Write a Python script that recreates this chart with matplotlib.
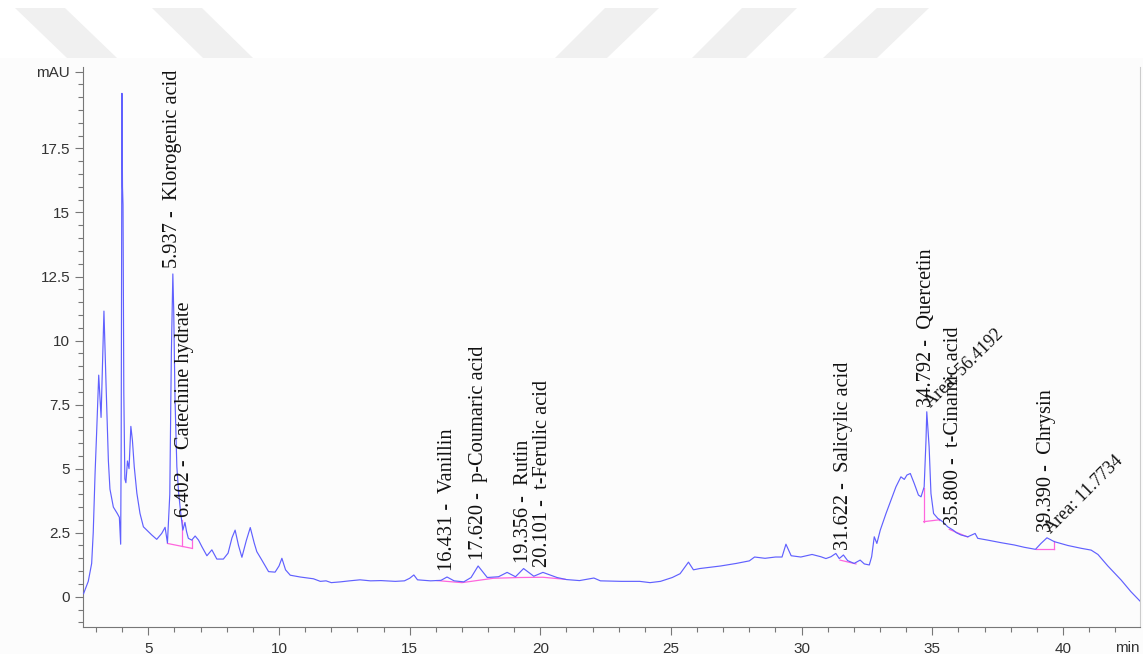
import numpy as np
import matplotlib
matplotlib.use("Agg")
import matplotlib.pyplot as plt
from matplotlib.patches import Polygon, Rectangle

# chromatogram trace (min, mAU)
time_min = [2.52, 2.70, 2.83, 2.89, 2.96, 3.02, 3.10, 3.19, 3.30, 3.38, 3.47, 3.53, 3.66, 3.81, 3.89,
            3.94, 3.96, 3.99, 4.01, 4.03, 4.06, 4.10, 4.14, 4.20, 4.26, 4.33, 4.39, 4.46, 4.56, 4.68,
            4.81, 4.94, 5.13, 5.32, 5.51, 5.64, 5.73, 5.82, 5.88, 5.937, 5.97, 6.02, 6.09, 6.16, 6.24,
            6.32, 6.40, 6.46, 6.53, 6.66, 6.79, 6.92, 7.05, 7.24, 7.43, 7.62, 7.87, 8.05, 8.20, 8.32,
            8.45, 8.58, 8.75, 8.90, 9.05, 9.15, 9.32, 9.60, 9.85, 10.00, 10.11, 10.25, 10.43, 10.81,
            11.32, 11.58, 11.80, 12.00, 12.35, 12.70, 13.10, 13.50, 13.90, 14.45, 14.80, 15.00, 15.16,
            15.30, 15.80, 16.20, 16.43, 16.70, 17.07, 17.35, 17.62, 17.97, 18.40, 18.73, 19.05, 19.36,
            19.75, 20.10, 20.64, 21.00, 21.50, 22.05, 22.30, 23.10, 23.80, 24.20, 24.60, 25.05, 25.35,
            25.67, 25.86, 26.10, 26.50, 26.90, 27.50, 28.00, 28.20, 28.60, 29.00, 29.25, 29.40, 29.60,
            29.97, 30.40, 30.74, 30.93, 31.12, 31.31, 31.44, 31.60, 31.76, 32.01, 32.24, 32.40, 32.59,
            32.68, 32.78, 32.88, 33.01, 33.23, 33.42, 33.61, 33.80, 33.93, 34.03, 34.16, 34.31, 34.47,
            34.57, 34.69, 34.76, 34.79, 34.88, 34.95, 35.05, 35.21, 35.40, 35.59, 35.80, 35.92, 36.10,
            36.36, 36.64, 36.74, 37.12, 37.63, 38.14, 38.52, 38.95, 39.16, 39.39, 39.67, 40.19, 40.70,
            41.08, 41.34, 41.72, 42.23, 42.60, 42.95]
signal_mau = [0.12, 0.60, 1.30, 2.50, 4.80, 6.40, 8.65, 7.00, 11.15, 8.30, 5.30, 4.20, 3.50, 3.25, 3.10,
              2.05, 6.00, 19.65, 16.00, 15.30, 8.00, 4.60, 4.45, 5.30, 5.00, 6.65, 6.10, 5.07, 4.04, 3.25,
              2.73, 2.60, 2.41, 2.24, 2.47, 2.71, 2.10, 4.00, 9.50, 12.60, 11.20, 7.70, 5.07, 4.04, 3.25,
              2.60, 2.90, 2.55, 2.28, 2.21, 2.37, 2.21, 1.95, 1.60, 1.83, 1.47, 1.47, 1.70, 2.30, 2.60,
              2.00, 1.54, 2.20, 2.70, 2.10, 1.76, 1.47, 0.98, 0.96, 1.20, 1.50, 1.05, 0.84, 0.77,
              0.70, 0.60, 0.62, 0.55, 0.58, 0.62, 0.66, 0.62, 0.63, 0.60, 0.62, 0.72, 0.85,
              0.66, 0.62, 0.64, 0.77, 0.62, 0.58, 0.75, 1.20, 0.75, 0.78, 0.95, 0.78, 1.10,
              0.80, 0.95, 0.75, 0.67, 0.63, 0.73, 0.62, 0.60, 0.60, 0.55, 0.60, 0.75, 0.90,
              1.35, 1.05, 1.10, 1.15, 1.20, 1.30, 1.40, 1.55, 1.50, 1.55, 1.55, 2.05, 1.60,
              1.55, 1.65, 1.56, 1.49, 1.56, 1.69, 1.49, 1.63, 1.41, 1.30, 1.43, 1.28, 1.24,
              1.56, 2.34, 2.08, 2.60, 3.25, 3.77, 4.29, 4.68, 4.58, 4.75, 4.81, 4.42, 3.97,
              3.90, 4.29, 6.11, 7.22, 5.85, 4.03, 3.25, 3.06, 2.93, 2.73, 2.60, 2.50, 2.41,
              2.34, 2.47, 2.28, 2.21, 2.11, 2.02, 1.93, 1.85, 2.08, 2.30, 2.15, 2.00, 1.89,
              1.82, 1.65, 1.20, 0.65, 0.20, -0.17]

# integration baselines and drop lines
base_t = [[5.73, 6.66], [16.05, 17.0, 18.2, 19.2, 20.1, 20.95], [31.47, 32.08],
          [34.67, 35.25], [35.65, 36.36], [38.97, 39.65]]
base_v = [[2.08, 1.89], [0.63, 0.55, 0.72, 0.75, 0.76, 0.68], [1.43, 1.28],
          [2.93, 3.00], [2.63, 2.33], [1.85, 1.85]]
drop_t = [6.27, 6.66, 34.67, 35.25, 39.65]

# peak labels
peak_rt = [5.937, 6.402, 16.431, 17.620, 19.356, 20.101, 31.622, 34.792, 35.800, 39.390]
peak_name = ["Klorogenic acid", "Catechine hydrate", "Vanillin", "p-Coumaric acid", "Rutin",
             "t-Ferulic acid", "Salicylic acid", "Quercetin", "t-Cinamic acid", "Chrysin"]
area_rt = [34.792, 39.390]
area_value = [56.4192, 11.7734]

y_ticks = [0, 2.5, 5, 7.5, 10, 12.5, 15, 17.5, 20.5]
y_ticklabels = ["0", "2.5", "5", "7.5", "10", "12.5", "15", "17.5", "mAU"]
x_ticks = [5, 10, 15, 20, 25, 30, 35, 40]

W, H = 1143, 654
fig = plt.figure(figsize=(W / 100, H / 100), dpi=100)
fig.patch.set_facecolor("white")

# panel background and faint watermark shapes above it
fig.patches.append(Rectangle((0, 0), 1, (H - 58) / H, transform=fig.transFigure,
                             facecolor="#fcfcfc", edgecolor="none", zorder=-5))
marks = [[(15, 8), (65, 8), (117, 58), (67, 58)],
         [(152, 8), (202, 8), (253, 58), (203, 58)],
         [(605, 8), (659, 8), (607, 58), (555, 58)],
         [(742, 8), (797, 8), (746, 58), (692, 58)],
         [(877, 8), (929, 8), (877, 58), (823, 58)]]
for m in marks:
    pts = [(px / W, 1 - py / H) for px, py in m]
    fig.patches.append(Polygon(pts, closed=True, transform=fig.transFigure,
                               facecolor="#f0f0f0", edgecolor="none", zorder=-5))

ax = fig.add_axes([83.3 / W, (H - 626.7) / H, (1140 - 83.3) / W, (626.7 - 66.7) / H])
ax.set_facecolor("none")

t = np.array(time_min)
s = np.array(signal_mau)
ax.plot(t, s, color="#6060ff", lw=0.85, zorder=3)

pink = "#ff66dd"
for bt, bv in zip(base_t, base_v):
    ax.plot(bt, bv, color=pink, lw=0.9, zorder=2)
for dt in drop_t:
    for bt, bv in zip(base_t, base_v):
        if bt[0] - 1e-6 <= dt <= bt[-1] + 1e-6:
            b = np.interp(dt, bt, bv)
            ax.plot([dt, dt], [b, np.interp(dt, t, s)], color=pink, lw=0.9, zorder=2)
            break

for rt, name in zip(peak_rt, peak_name):
    ax.annotate(f"{rt:.3f} -  {name}", xy=(rt, np.interp(rt, t, s)), xytext=(0, 4),
                textcoords="offset points", rotation=90, ha="center", va="bottom",
                family="Liberation Serif", fontsize=14.7, color="#111111")

for rt, area in zip(area_rt, area_value):
    ax.annotate(f"Area: {area}", xy=(rt, np.interp(rt, t, s)), xytext=(5, 1),
                textcoords="offset points", rotation=45, rotation_mode="anchor",
                ha="left", va="bottom", family="Liberation Serif", fontsize=13, color="#111111")

ax.set_xlim(2.51, 42.95)
ax.set_ylim(-1.17, 20.69)

ax.set_xticks(x_ticks)
ax.set_xticks(np.arange(3, 43, 1), minor=True)
ax.set_yticks(y_ticks)
ax.set_yticklabels(y_ticklabels)
ax.set_yticks(np.arange(-1, 21, 0.5), minor=True)

for lab in ax.get_xticklabels() + ax.get_yticklabels():
    lab.set_family("Liberation Sans")
ax.tick_params(which="major", length=6, width=0.8, color="#777777", labelsize=11,
               labelcolor="#333333")
ax.tick_params(which="minor", length=3.5, width=0.8, color="#777777")
ax.tick_params(axis="x", pad=5)
ax.tick_params(axis="y", pad=3.5)

ax.spines["top"].set_visible(False)
ax.spines["left"].set_color("#777777")
ax.spines["bottom"].set_color("#777777")
ax.spines["right"].set_color("#cccccc")

ax.text(1.0, -0.026, "min", transform=ax.transAxes, ha="right", va="top",
        family="Liberation Sans", fontsize=11, color="#333333")

fig.savefig("out.png", dpi=100)
